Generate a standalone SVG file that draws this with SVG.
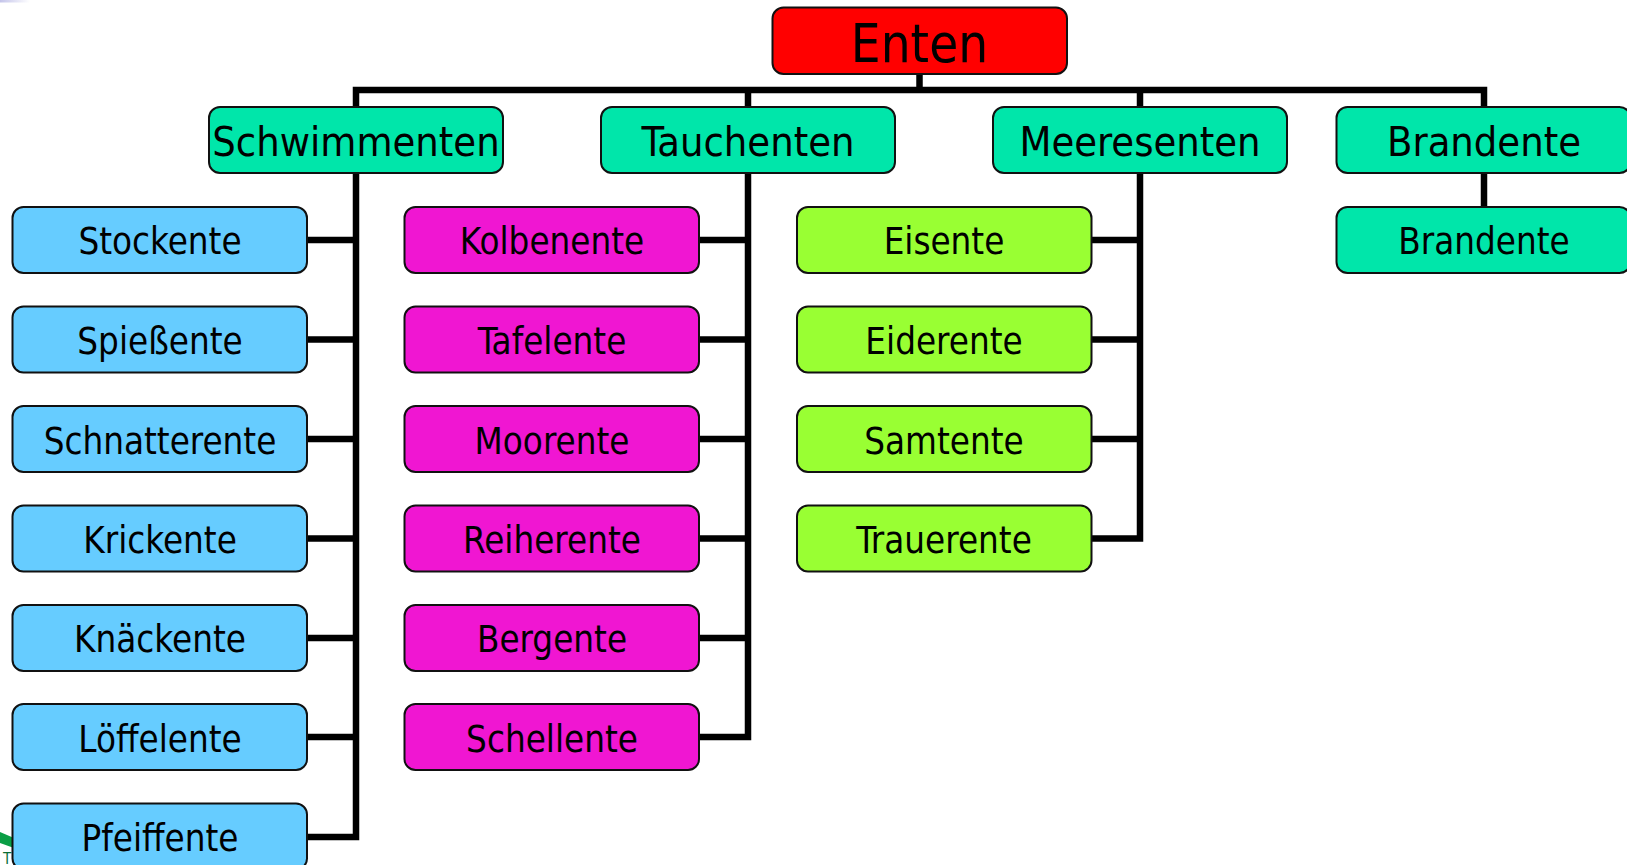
<svg xmlns="http://www.w3.org/2000/svg" width="1627" height="865" viewBox="0 0 1627 865">
<defs>
<linearGradient id="fade" x1="0" x2="1" y1="0" y2="0"><stop offset="0" stop-color="#c4c4ea"/><stop offset="1" stop-color="#ffffff"/></linearGradient>
</defs>
<style>
rect.n{stroke:#111;stroke-width:2}
text{font-family:"DejaVu Sans",Tahoma,sans-serif;font-stretch:condensed;text-anchor:middle;fill:#000}
.l{font-size:36.400px}.m{font-size:41.200px}.r{font-size:52.500px}
.b{fill:#66ccff}.p{fill:#f016d2}.g{fill:#99ff33}.t{fill:#00e6aa}
#connectors path{fill:none;stroke:#000;stroke-width:6.500}
</style>
<rect width="1627" height="865" fill="#fff"/>
<rect x="0" y="0" width="30" height="2.500" fill="url(#fade)"/>
<path d="M0 832L14 838V848L0 843Z" fill="#0a9e45"/>
<text x="7" y="864" style="font-size:15px;fill:#0a6e35">T</text>
<g id="connectors">
<path d="M356 107V90H1484V107"/>
<path d="M919.500 74V93"/>
<path d="M748 90V107"/>
<path d="M1140 90V107"/>
<path d="M356 173V837H307M307 240H356M307 339.500H356M307 439H356M307 538.500H356M307 638H356M307 737H356"/>
<path d="M748 173V737H699M699 240H748M699 339.500H748M699 439H748M699 538.500H748M699 638H748"/>
<path d="M1140 173V538.500H1091M1091 240H1140M1091 339.500H1140M1091 439H1140"/>
<path d="M1484 173V207"/>
</g>
<g id="enten"><rect class="n" x="772.500" y="7.500" width="294.500" height="66.500" rx="11" fill="#ff0000"/><text class="r" x="919.500" y="62">Enten</text></g>
<g id="schwimmenten"><rect class="n t" x="209" y="107" width="294" height="66" rx="11"/><text class="m" x="356" y="156">Schwimmenten</text></g>
<g id="tauchenten"><rect class="n t" x="601" y="107" width="294" height="66" rx="11"/><text class="m" x="748" y="156">Tauchenten</text></g>
<g id="meeresenten"><rect class="n t" x="993" y="107" width="294" height="66" rx="11"/><text class="m" x="1140" y="156">Meeresenten</text></g>
<g id="brandente-top"><rect class="n t" x="1336.500" y="107" width="294" height="66" rx="11"/><text class="m" x="1484" y="156">Brandente</text></g>
<g id="brandente"><rect class="n t" x="1336.500" y="207" width="294" height="66" rx="11"/><text class="l" x="1484" y="254">Brandente</text></g>
<g id="stockente"><rect class="n b" x="12.500" y="207" width="294.500" height="66" rx="11"/><text class="l" x="160" y="254">Stockente</text></g>
<g id="spiessente"><rect class="n b" x="12.500" y="306.500" width="294.500" height="66" rx="11"/><text class="l" x="160" y="353.500">Spießente</text></g>
<g id="schnatterente"><rect class="n b" x="12.500" y="406" width="294.500" height="66" rx="11"/><text class="l" x="160" y="453.500">Schnatterente</text></g>
<g id="krickente"><rect class="n b" x="12.500" y="505.500" width="294.500" height="66" rx="11"/><text class="l" x="160" y="552.500">Krickente</text></g>
<g id="knaeckente"><rect class="n b" x="12.500" y="605" width="294.500" height="66" rx="11"/><text class="l" x="160" y="652">Knäckente</text></g>
<g id="loeffelente"><rect class="n b" x="12.500" y="704" width="294.500" height="66" rx="11"/><text class="l" x="160" y="751.500">Löffelente</text></g>
<g id="pfeiffente"><rect class="n b" x="12.500" y="803.500" width="294.500" height="66" rx="11"/><text class="l" x="160" y="850.500">Pfeiffente</text></g>
<g id="kolbenente"><rect class="n p" x="404.500" y="207" width="294.500" height="66" rx="11"/><text class="l" x="552" y="254">Kolbenente</text></g>
<g id="tafelente"><rect class="n p" x="404.500" y="306.500" width="294.500" height="66" rx="11"/><text class="l" x="552" y="353.500">Tafelente</text></g>
<g id="moorente"><rect class="n p" x="404.500" y="406" width="294.500" height="66" rx="11"/><text class="l" x="552" y="453.500">Moorente</text></g>
<g id="reiherente"><rect class="n p" x="404.500" y="505.500" width="294.500" height="66" rx="11"/><text class="l" x="552" y="552.500">Reiherente</text></g>
<g id="bergente"><rect class="n p" x="404.500" y="605" width="294.500" height="66" rx="11"/><text class="l" x="552" y="652">Bergente</text></g>
<g id="schellente"><rect class="n p" x="404.500" y="704" width="294.500" height="66" rx="11"/><text class="l" x="552" y="751.500">Schellente</text></g>
<g id="eisente"><rect class="n g" x="797" y="207" width="294.500" height="66" rx="11"/><text class="l" x="944" y="253.500">Eisente</text></g>
<g id="eiderente"><rect class="n g" x="797" y="306.500" width="294.500" height="66" rx="11"/><text class="l" x="944" y="353.500">Eiderente</text></g>
<g id="samtente"><rect class="n g" x="797" y="406" width="294.500" height="66" rx="11"/><text class="l" x="944" y="453.500">Samtente</text></g>
<g id="trauerente"><rect class="n g" x="797" y="505.500" width="294.500" height="66" rx="11"/><text class="l" x="944" y="552.500">Trauerente</text></g>
</svg>
